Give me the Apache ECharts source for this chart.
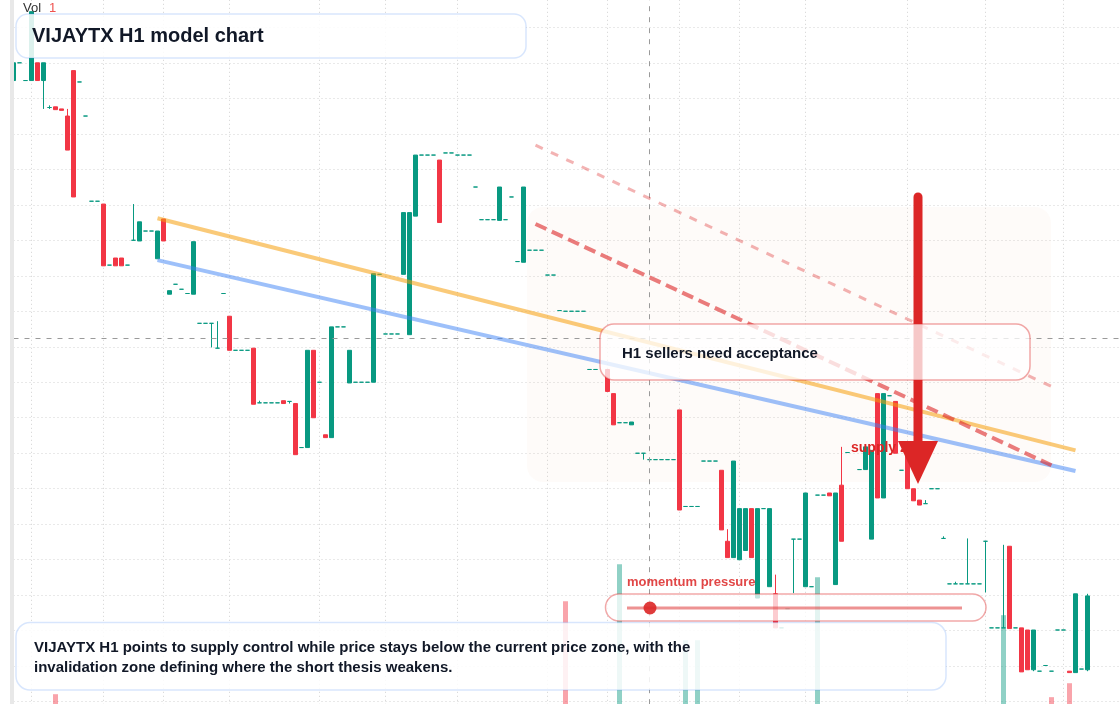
<!DOCTYPE html>
<html>
<head>
<meta charset="utf-8">
<title>VIJAYTX H1 model chart</title>
<script src="https://cdn.jsdelivr.net/npm/echarts@6/dist/echarts.min.js"></script>
<style>
    html, body { margin: 0; padding: 0; background: #fff; }
    #chart { width: 1120px; height: 704px; }
</style>
</head>
<body>
<div id="chart"></div>
<script>
var UP = '#089981',
    DOWN = '#f23645',
    FONT = '"Liberation Sans", Arial, sans-serif';

// H1 bars: [open, close, low, high], null = no bar
var candles = [
    [109.25, 109.50, 109.25, 109.50], [109.50, 109.50, 109.50, 109.50], [109.25, 109.25, 109.25, 109.25],
    [109.25, 110.22, 109.25, 110.22], [109.50, 109.25, 109.25, 109.50], [109.25, 109.50, 108.85, 109.50],
    [108.87, 108.87, 108.85, 108.90], [108.88, 108.84, 108.84, 108.88], [108.85, 108.83, 108.83, 108.85],
    [108.75, 108.27, 108.27, 108.85], [109.39, 107.61, 107.61, 109.39], [109.23, 109.23, 109.23, 109.23],
    [108.75, 108.75, 108.75, 108.75], [107.55, 107.55, 107.55, 107.55], [107.55, 107.55, 107.55, 107.55],
    [107.51, 106.64, 106.64, 107.51], [106.65, 106.65, 106.65, 106.65], [106.75, 106.64, 106.64, 106.75],
    [106.75, 106.64, 106.64, 106.75], [106.65, 106.65, 106.65, 106.65], [107.00, 107.00, 107.00, 107.51],
    [106.99, 107.26, 106.99, 107.26], [107.13, 107.13, 107.13, 107.13], [107.13, 107.13, 107.13, 107.13],
    [106.74, 107.13, 106.74, 107.13], [107.30, 106.99, 106.99, 107.30], [106.24, 106.29, 106.24, 106.29],
    [106.38, 106.38, 106.38, 106.38], [106.31, 106.31, 106.31, 106.31], [106.25, 106.25, 106.25, 106.25],
    [106.24, 106.98, 106.24, 106.98], [105.83, 105.83, 105.83, 105.83], [105.83, 105.83, 105.83, 105.83],
    [105.83, 105.83, 105.49, 105.83], [105.48, 105.48, 105.48, 105.86], [106.25, 106.25, 106.25, 106.25],
    [105.93, 105.45, 105.45, 105.93], [105.45, 105.45, 105.45, 105.45], [105.45, 105.45, 105.45, 105.45],
    [105.45, 105.45, 105.45, 105.45], [105.48, 104.69, 104.69, 105.48], [104.71, 104.71, 104.71, 104.74],
    [104.71, 104.71, 104.71, 104.71], [104.71, 104.71, 104.71, 104.71], [104.71, 104.71, 104.71, 104.71],
    [104.74, 104.70, 104.70, 104.74], [104.73, 104.73, 104.70, 104.73], [104.70, 103.98, 103.98, 104.70],
    [104.08, 104.08, 104.08, 104.08], [104.08, 105.45, 104.08, 105.45], [105.45, 104.50, 104.50, 105.45],
    [105.00, 105.00, 105.00, 105.00], [104.26, 104.22, 104.22, 104.26], [104.22, 105.78, 104.22, 105.78],
    [105.78, 105.78, 105.78, 105.78], [105.78, 105.78, 105.78, 105.78], [104.99, 105.45, 104.99, 105.45],
    [105.00, 105.00, 105.00, 105.00], [105.00, 105.00, 105.00, 105.00], [105.00, 105.00, 105.00, 105.00],
    [105.00, 106.53, 105.00, 106.53], [106.52, 106.52, 106.52, 106.52], [105.68, 105.68, 105.68, 105.68],
    [105.68, 105.68, 105.68, 105.68], [105.68, 105.68, 105.68, 105.68], [106.52, 107.39, 106.52, 107.39],
    [105.67, 107.39, 105.67, 107.39], [107.34, 108.20, 107.34, 108.20], [108.20, 108.20, 108.20, 108.20],
    [108.20, 108.20, 108.20, 108.20], [108.20, 108.20, 108.20, 108.20], [108.13, 107.25, 107.25, 108.13],
    [108.23, 108.23, 108.23, 108.23], [108.23, 108.23, 108.23, 108.23], [108.20, 108.20, 108.20, 108.20],
    [108.20, 108.20, 108.20, 108.20], [108.20, 108.20, 108.20, 108.20], [107.75, 107.75, 107.75, 107.75],
    [107.29, 107.29, 107.29, 107.29], [107.29, 107.29, 107.29, 107.29], [107.29, 107.29, 107.29, 107.29],
    [107.28, 107.75, 107.28, 107.75], [107.29, 107.29, 107.29, 107.29], [107.61, 107.61, 107.61, 107.61],
    [106.70, 106.70, 106.70, 106.70], [106.69, 107.75, 106.69, 107.75], [106.86, 106.86, 106.86, 106.86],
    [106.86, 106.86, 106.86, 106.86], [106.86, 106.86, 106.86, 106.86], [106.51, 106.51, 106.51, 106.51],
    [106.51, 106.51, 106.51, 106.51], [106.01, 106.01, 106.01, 106.01], [106.00, 106.00, 106.00, 106.00],
    [106.00, 106.00, 106.00, 106.00], [106.00, 106.00, 106.00, 106.00], [106.00, 106.00, 106.00, 106.00],
    [105.18, 105.18, 105.18, 105.18], [105.18, 105.18, 105.18, 105.18], null,
    [105.18, 104.87, 104.87, 105.18], [104.84, 104.40, 104.40, 104.84], [104.43, 104.43, 104.43, 104.43],
    [104.43, 104.43, 104.43, 104.43], [104.40, 104.44, 104.40, 104.44], [104.00, 104.00, 104.00, 104.00],
    [104.00, 104.00, 103.91, 104.00], [103.91, 103.91, 103.91, 103.91], [103.91, 103.91, 103.91, 103.91],
    [103.91, 103.91, 103.91, 103.91], [103.91, 103.91, 103.91, 103.91], [103.91, 103.91, 103.91, 103.91],
    [104.61, 103.20, 103.20, 104.61], [103.25, 103.25, 103.25, 103.25], [103.25, 103.25, 103.25, 103.25],
    [103.25, 103.25, 103.25, 103.25], [103.89, 103.89, 103.89, 103.89], [103.89, 103.89, 103.89, 103.89],
    [103.89, 103.89, 103.89, 103.89], [103.76, 102.92, 102.92, 103.76], [102.76, 102.53, 102.53, 102.93],
    [102.53, 103.89, 102.53, 103.89], [102.50, 103.22, 102.50, 103.22], [102.63, 103.22, 102.63, 103.22],
    [103.22, 102.53, 102.53, 103.22], [101.96, 103.22, 101.96, 103.22], [103.22, 103.22, 103.22, 103.22],
    [102.12, 103.22, 102.12, 103.22], [102.02, 101.54, 101.54, 102.29], [101.54, 101.54, 101.54, 101.54],
    [101.81, 101.81, 101.81, 101.81], [102.79, 102.79, 102.03, 102.79], [102.79, 102.79, 102.79, 102.79],
    [102.12, 103.44, 102.12, 103.44], [102.12, 102.12, 102.12, 102.12], [103.41, 103.41, 103.41, 103.41],
    [103.41, 103.41, 103.41, 103.41], [103.44, 103.40, 103.40, 103.44], [102.15, 103.44, 102.15, 103.44],
    [103.55, 102.76, 102.76, 104.09], [104.01, 104.01, 104.01, 104.01], null,
    [103.77, 103.77, 103.77, 103.77], [103.77, 104.09, 103.77, 104.09], [102.79, 104.04, 102.79, 104.04],
    [104.84, 103.37, 103.37, 104.84], [103.37, 104.84, 103.37, 104.84], [104.81, 104.81, 104.81, 104.81],
    [104.73, 104.00, 104.00, 104.73], [103.76, 103.76, 103.76, 103.76], [104.05, 103.50, 103.50, 104.05],
    [103.50, 103.33, 103.33, 103.50], [103.34, 103.27, 103.27, 103.34], [103.29, 103.29, 103.29, 103.34],
    [103.50, 103.50, 103.50, 103.50], [103.50, 103.50, 103.50, 103.50], [102.80, 102.80, 102.80, 102.83],
    [102.16, 102.16, 102.16, 102.16], [102.16, 102.16, 102.16, 102.19], [102.16, 102.16, 102.16, 102.16],
    [102.16, 102.16, 102.16, 102.80], [102.16, 102.16, 102.16, 102.16], [102.16, 102.16, 102.16, 102.16],
    [102.76, 102.76, 102.04, 102.76], [101.54, 101.54, 101.54, 101.54], [101.54, 101.54, 101.54, 101.54],
    [101.54, 101.54, 101.54, 102.71], [102.69, 101.53, 101.53, 102.69], [101.54, 101.54, 101.54, 101.54],
    [101.54, 100.92, 100.92, 101.54], [101.51, 100.95, 100.95, 101.51], [100.95, 101.51, 100.93, 101.51],
    [100.93, 100.93, 100.93, 100.93], [101.01, 101.01, 101.01, 101.01], [100.93, 100.93, 100.93, 100.93],
    [101.51, 101.51, 101.51, 101.51], [101.51, 101.51, 101.51, 101.51], [100.93, 100.91, 100.91, 100.93],
    [100.91, 102.02, 100.91, 102.02], [100.96, 100.96, 100.96, 100.96], [100.95, 101.99, 100.93, 102.02]
];

var volumes = [
    210, 180, 150, 320, 260, 240, 120, 577, 160, 280,
    360, 140, 120, 90, 110, 300, 130, 170, 150, 100,
    140, 220, 90, 100, 260, 240, 180, 120, 110, 130,
    330, 150, 120, 160, 140, 110, 290, 100, 90, 110,
    380, 130, 100, 90, 110, 140, 120, 310, 130, 350,
    300, 140, 120, 390, 110, 100, 240, 90, 110, 100,
    400, 130, 120, 110, 100, 330, 420, 360, 140, 120,
    110, 310, 130, 120, 110, 100, 90, 160, 120, 110,
    100, 240, 130, 150, 170, 350, 140, 120, 110, 150,
    130, 120, 1825, 110, 100, 90, 170, 140, 0, 260,
    310, 2321, 130, 150, 180, 160, 140, 120, 110, 100,
    130, 390, 1301, 140, 1301, 160, 130, 120, 340, 270,
    410, 300, 280, 330, 420, 150, 380, 300, 160, 190,
    250, 140, 410, 130, 2146, 150, 120, 400, 360, 170,
    0, 150, 200, 380, 420, 400, 140, 260, 150, 330,
    180, 160, 130, 120, 110, 170, 140, 130, 120, 210,
    120, 110, 230, 150, 130, 1637, 350, 140, 290, 270,
    260, 120, 150, 537, 130, 110, 724, 380, 140, 360
];

// first bar of every session -> vertical grid lines
var sessionStarts = [3, 15, 25, 36, 51, 62, 74, 89, 99, 111, 121, 132, 149, 162, 175];
var barSlots = 186;

// model lines: [barIndex, price]
var channelTop = [[24, 107.31], [177, 104.04]];
var channelBottom = [[24, 106.72], [177, 103.75]];
var supplyOuter = [[87, 108.34], [173, 104.94]];
var supplyInner = [[87, 107.23], [173, 103.83]];
var cursorBar = 106,
    cursorPrice = 105.62;

var categories = [];
for (var i = 0; i < barSlots; i++) {
    categories.push('H1 #' + (i + 1));
}

var candleData = candles.map(function (c) {
    if (!c) return ['-', '-', '-', '-'];
    if (c[0] === c[1]) {
        return {
            value: c,
            itemStyle: { color: UP, color0: UP, borderColor: UP, borderColor0: UP }
        };
    }
    return c;
});

var volumeData = volumes.map(function (v, i) {
    var c = candles[i],
        up = true;
    if (c) {
        if (c[1] !== c[0]) up = c[1] > c[0];
        else if (i > 0 && candles[i - 1]) up = c[1] >= candles[i - 1][1];
    }
    return {
        value: v,
        itemStyle: { color: up ? 'rgba(8,153,129,0.45)' : 'rgba(242,54,69,0.45)' }
    };
});

function segment(pts, style) {
    return [{
        coord: [categories[pts[0][0]], pts[0][1]],
        lineStyle: style
    }, {
        coord: [categories[pts[1][0]], pts[1][1]]
    }];
}

var dom = document.getElementById('chart');
var myChart = echarts.init(dom, null, { renderer: 'canvas' });

var gridLine = { color: '#d2d2d2', width: 1, type: [1, 3] };

var chartOptions = {
    animation: false,
    backgroundColor: '#ffffff',
    grid: {
        left: 13.5,
        right: -3.5,
        top: -8.2,
        bottom: -33.2,
        outerBoundsMode: 'none'
    },
    xAxis: {
        type: 'category',
        data: categories,
        boundaryGap: false,
        axisLine: { show: false },
        axisTick: { show: false },
        axisLabel: { show: false },
        splitLine: {
            show: true,
            interval: function (idx) {
                return sessionStarts.indexOf(idx) >= 0;
            },
            lineStyle: gridLine
        }
    },
    yAxis: [{
        type: 'value',
        min: 100,
        max: 110.5,
        interval: 0.5,
        position: 'left',
        axisLine: { show: false },
        axisTick: { show: false },
        axisLabel: { show: false },
        splitLine: { show: true, lineStyle: gridLine }
    }, {
        type: 'value',
        min: 0,
        max: 10000,
        show: false,
        splitLine: { show: false }
    }],
    series: [{
        name: 'Vol',
        type: 'bar',
        yAxisIndex: 1,
        data: volumeData,
        barWidth: 5,
        z: 2,
        silent: true
    }, {
        name: 'VIJAYTX',
        type: 'candlestick',
        data: candleData,
        barWidth: 4.4,
        z: 3,
        silent: true,
        itemStyle: {
            color: UP,
            color0: DOWN,
            borderColor: UP,
            borderColor0: DOWN,
            borderWidth: 1
        },
        markLine: {
            silent: true,
            symbol: ['none', 'none'],
            label: { show: false },
            animation: false,
            data: [
                { xAxis: categories[cursorBar], lineStyle: { color: '#9a9a9a', width: 1, type: [5, 6] } },
                { yAxis: cursorPrice, lineStyle: { color: '#9a9a9a', width: 1, type: [5, 6] } },
                segment(channelTop, { color: '#f59e0b', width: 4, type: 'solid', opacity: 0.55 }),
                segment(channelBottom, { color: '#3b82f6', width: 4, type: 'solid', opacity: 0.5 }),
                segment(supplyOuter, { color: '#dc2626', width: 3, type: [8, 9], opacity: 0.35 }),
                segment(supplyInner, { color: '#dc2626', width: 4, type: [12, 6], opacity: 0.6 })
            ]
        }
    }],
    graphic: [
        // price scale edge
        { type: 'rect', z: 10, shape: { x: 10, y: 0, width: 4, height: 704 },
          style: { fill: '#e8e8e8' } },
        // supply zone shading
        { type: 'rect', z: 1, shape: { x: 527, y: 207, width: 524, height: 275, r: 16 },
          style: { fill: 'rgba(240,200,180,0.08)' } },
        { type: 'text', z: 12, x: 851, y: 448,
          style: { text: 'supply zone', font: 'bold 14px ' + FONT, fill: '#dc2626', verticalAlign: 'middle' } },
        // arrow
        { type: 'line', z: 15, shape: { x1: 918, y1: 197, x2: 918, y2: 450 },
          style: { stroke: '#dc2626', lineWidth: 9, lineCap: 'round' } },
        { type: 'polygon', z: 15, shape: { points: [[898, 441], [938, 441], [918, 484]] },
          style: { fill: '#dc2626' } },
        // callout
        { type: 'rect', z: 20, shape: { x: 600, y: 324, width: 430, height: 56, r: 14 },
          style: { fill: 'rgba(255,255,255,0.75)', stroke: 'rgba(220,38,38,0.4)', lineWidth: 1.5 } },
        { type: 'text', z: 21, x: 622, y: 354,
          style: { text: 'H1 sellers need acceptance', font: 'bold 15px ' + FONT, fill: '#111827', verticalAlign: 'middle' } },
        // momentum gauge
        { type: 'text', z: 21, x: 627, y: 582,
          style: { text: 'momentum pressure', font: 'bold 13px ' + FONT, fill: 'rgba(220,38,38,0.85)', verticalAlign: 'middle' } },
        { type: 'rect', z: 20, shape: { x: 605.5, y: 594, width: 380.5, height: 27, r: 13.5 },
          style: { fill: 'rgba(255,255,255,0.75)', stroke: 'rgba(220,38,38,0.4)', lineWidth: 1.5 } },
        { type: 'line', z: 21, shape: { x1: 627, y1: 608, x2: 962, y2: 608 },
          style: { stroke: 'rgba(220,38,38,0.5)', lineWidth: 3 } },
        { type: 'circle', z: 22, shape: { cx: 650, cy: 608, r: 6.5 },
          style: { fill: 'rgba(220,38,38,0.9)' } },
        // title
        { type: 'rect', z: 20, shape: { x: 16, y: 14, width: 510, height: 44, r: 12 },
          style: { fill: 'rgba(255,255,255,0.86)', stroke: 'rgba(59,130,246,0.2)', lineWidth: 1.5 } },
        { type: 'text', z: 21, x: 32, y: 36,
          style: { text: 'VIJAYTX H1 model chart', font: 'bold 20px ' + FONT, fill: '#111827', verticalAlign: 'middle' } },
        // summary
        { type: 'rect', z: 20, shape: { x: 16, y: 622.5, width: 930, height: 67.5, r: 14 },
          style: { fill: 'rgba(255,255,255,0.85)', stroke: 'rgba(59,130,246,0.2)', lineWidth: 1.5 } },
        { type: 'text', z: 21, x: 34, y: 657.5,
          style: {
              text: 'VIJAYTX H1 points to supply control while price stays below the current price zone, with the\ninvalidation zone defining where the short thesis weakens.',
              font: 'bold 15px ' + FONT, fill: '#111827', verticalAlign: 'middle', lineHeight: 20
          } },
        // volume tag
        { type: 'text', z: 21, x: 23, y: 8.5,
          style: { text: 'Vol', font: '13px ' + FONT, fill: '#333333', verticalAlign: 'middle' } },
        { type: 'text', z: 21, x: 49, y: 8.5,
          style: { text: '1', font: '13px ' + FONT, fill: '#ef5350', verticalAlign: 'middle' } }
    ]
};

if (chartOptions && typeof chartOptions === "object") {
    myChart.setOption(chartOptions, true);
}
</script>
</body>
</html>
